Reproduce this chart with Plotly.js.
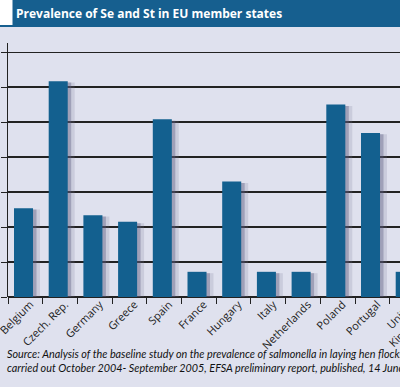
<!DOCTYPE html>
<html>
<head>
<meta charset="utf-8">
<script src="https://cdn.plot.ly/plotly-3.0.1.min.js"></script>
<style>
html,body{margin:0;padding:0;background:#dfe1ee;overflow:hidden;width:400px;height:387px;}
#chart{width:440px;height:387px;}
</style>
</head>
<body>
<div id="chart"></div>
<script>
const categories = ["Belgium", "Czech. Rep.", "Germany", "Greece", "Spain", "France", "Hungary", "Italy", "Netherlands", "Poland", "Portugal", "United<br>Kingdom"];
const values = [25.4, 61.7, 23.4, 21.5, 50.8, 7.2, 33.0, 7.2, 7.2, 55.0, 46.9, 7.2];
const chartTitle = "Prevalence of Se and St in EU member states";
const sourceText = "Source: Analysis of the baseline study on the prevalence of salmonella in laying hen flocks<br>carried out October 2004- September 2005, EFSA preliminary report, published, 14 June 2006";

// The original picture is cropped at its right edge: the canvas is wider than the 400px window.
const W = 440, H = 387;
const mL = 8, mR = 0, mT = 43, mB = 90;
const plotW = W - mL - mR, plotH = H - mT - mB;
const px2paperX = p => (p - mL) / plotW;
const px2paperY = p => (H - mB - p) / plotH;
const catPx = 34.7;

const barW = 0.548, barOff = -0.327;
const shadowValues = values.map(v => v - 0.4);

const traces = [
  {type: 'bar', x: categories, y: shadowValues, width: barW, offset: barOff + 0.2,
   marker: {color: 'rgba(120,120,150,0.2)', line: {width: 0}}, hoverinfo: 'skip', showlegend: false},
  {type: 'bar', x: categories, y: shadowValues, width: barW, offset: barOff + 0.1,
   marker: {color: 'rgba(90,90,125,0.38)', line: {width: 0}}, hoverinfo: 'skip', showlegend: false},
  {type: 'bar', x: categories, y: values, width: barW, offset: barOff,
   marker: {color: '#13608f', line: {width: 0}}, showlegend: false}
];

const layout = {
  width: W, height: H,
  margin: {l: mL, r: mR, t: mT, b: mB, pad: 0},
  paper_bgcolor: '#dfe1ee', plot_bgcolor: 'rgba(0,0,0,0)',
  barmode: 'overlay',
  title: {text: '<b>' + chartTitle + '</b>', x: 16 / W, xanchor: 'left', xref: 'container',
          y: 1 - 13.5 / H, yanchor: 'middle', yref: 'container',
          font: {family: 'Open Sans', size: 12, color: '#ffffff'}},
  xaxis: {range: [-0.5, -0.5 + plotW / catPx], showgrid: false, zeroline: false, showline: false,
          ticks: 'outside', ticklen: 6, tickwidth: 1, tickcolor: '#222', tickson: 'boundaries',
          tickangle: -45, ticklabelshift: 5, ticklabelstandoff: -2,
          tickfont: {family: 'Open Sans', size: 11, color: '#222'}, fixedrange: true},
  yaxis: {range: [0, 72.6], dtick: 10, showgrid: true, gridcolor: '#222', gridwidth: 1.2,
          zeroline: true, zerolinecolor: '#222', zerolinewidth: 1.5,
          showline: true, linecolor: '#222', linewidth: 1.5,
          ticks: 'outside', ticklen: 6, tickcolor: '#222', showticklabels: false, fixedrange: true},
  shapes: [
    {type: 'rect', xref: 'paper', yref: 'paper', x0: px2paperX(0), x1: px2paperX(W), y0: px2paperY(27), y1: px2paperY(0),
     fillcolor: '#165f8f', line: {width: 0}, layer: 'below'},
    {type: 'rect', xref: 'paper', yref: 'paper', x0: px2paperX(0), x1: px2paperX(12.5), y0: px2paperY(25), y1: px2paperY(0),
     fillcolor: '#ffffff', line: {width: 0}, layer: 'above'}
  ],
  annotations: [
    {text: '<i>' + sourceText + '</i>', xref: 'paper', yref: 'paper', x: px2paperX(5), y: px2paperY(345),
     xanchor: 'left', yanchor: 'top', align: 'left', showarrow: false,
     font: {family: 'Lato', size: 10.8, color: '#111'}}
  ]
};

Plotly.newPlot('chart', traces, layout, {displayModeBar: false, staticPlot: true});
</script>
</body>
</html>
